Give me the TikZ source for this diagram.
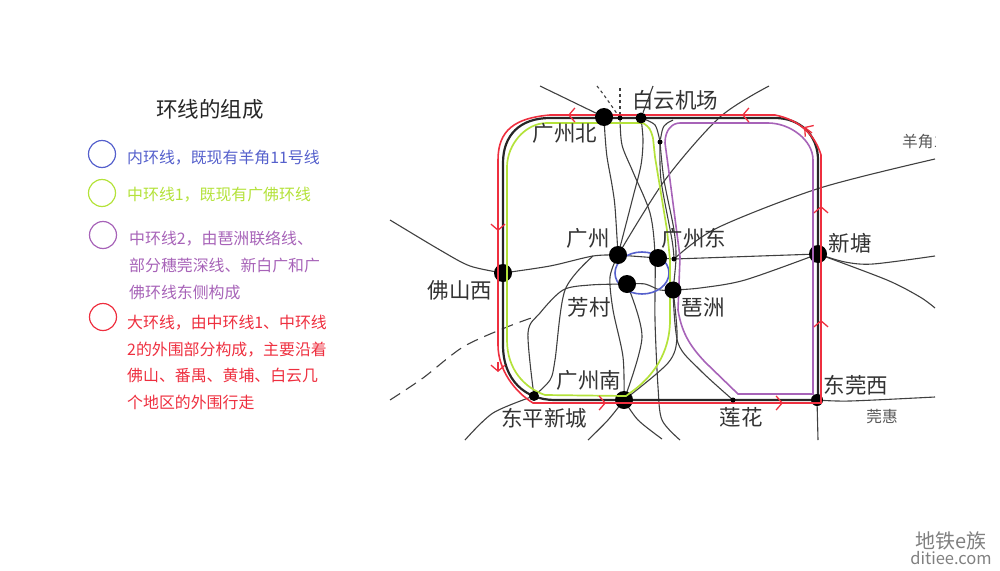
\documentclass[tikz,border=0pt]{standalone}
\usepackage{fontspec}
\setmainfont{Noto Sans CJK SC}
\usetikzlibrary{arrows.meta}
\definecolor{ringblue}{HTML}{5560CC}
\definecolor{ringgreen}{HTML}{B4E23A}
\definecolor{ringpurple}{HTML}{A763B8}
\definecolor{ringred}{HTML}{EE2F3F}
\definecolor{linegrey}{HTML}{404040}
\pgfdeclarelayer{lines}
\pgfdeclarelayer{rings}
\pgfdeclarelayer{top}
\pgfsetlayers{lines,main,rings,top}
\tikzset{
   branch/.style={draw=linegrey, line width=1.1pt},
   bigstop/.style={circle, fill=black, inner sep=0pt, minimum size=18pt},
   midstop/.style={circle, fill=black, inner sep=0pt, minimum size=10pt},
   smallstop/.style={circle, fill=black, inner sep=0pt, minimum size=5pt},
   maplabel/.style={inner sep=0pt, text=black!80, font=\fontsize{21.5}{26}\selectfont},
   minilabel/.style={inner sep=0pt, text=black!65, font=\fontsize{15.7}{19}\selectfont},
   legend/.style={inner sep=0pt, anchor=north west, align=left, font=\fontsize{15.9}{26.7}\selectfont},
   legendring/.style={circle, draw, line width=1.2pt, inner sep=0pt, minimum size=27pt},
   redtick/.style={draw=ringred, line width=1.3pt, -{Straight Barb[length=6pt,width=14pt]}},
}
\begin{document}
\begin{tikzpicture}[x=1pt,y=-1pt]
   \useasboundingbox (0,0) rectangle (1000,570);
   % left column
   \node (title) [inner sep=0pt, text=black!85, font=\fontsize{21.5}{26}\selectfont] at (210,109) {环线的组成};
   \node (c1) [legendring, draw=ringblue] at (102,154) {};
   \node (c2) [legendring, draw=ringgreen] at (102,193) {};
   \node (c3) [legendring, draw=ringpurple] at (103,235) {};
   \node (c4) [legendring, draw=ringred] at (103,317) {};
   \node (t1) [legend, text=ringblue] at (127,150) {内环线，既现有羊角11号线};
   \node (t2) [legend, text=ringgreen] at (127,187) {中环线1，既现有广佛环线};
   \node (t3) [legend, text=ringpurple] at (129,231) {中环线2，由琶洲联络线、\\部分穗莞深线、新白广和广\\佛环线东侧构成};
   \node (t4) [legend, text=ringred] at (127,315) {大环线，由中环线1、中环线\\2的外围部分构成，主要沿着\\佛山、番禺、黄埔、白云几\\个地区的外围行走};
   % stops under the coloured rings
   \node (fsx) [bigstop] at (503,273) {};
   \node (xt) [bigstop] at (818,254) {};
   \node (gzn) [bigstop] at (624,400) {};
   \node (dgx) [midstop, minimum size=12pt] at (817,400) {};
   % stops over them
   \begin{pgfonlayer}{top}
      \node (gzb) [bigstop] at (604,117) {};
      \node (byjc) [midstop, minimum size=11pt] at (641,118) {};
      \node (gz) [bigstop] at (618,255) {};
      \node (gzd) [bigstop] at (658,258) {};
      \node (fc) [bigstop] at (627,284) {};
      \node (pz) [bigstop, minimum size=17pt] at (673,290) {};
      \node (dpxc) [midstop] at (534,396) {};
      \node (lh) [smallstop] at (733,400) {};
      \node (top1) [smallstop] at (620,118) {};
      \node (top2) [smallstop] at (660,142) {};
      \node (mid1) [smallstop] at (674,259) {};
   \end{pgfonlayer}
   \coordinate (endA) at (540,86);
   \coordinate (endB) at (597,86);
   \coordinate (endC) at (620,88);
   \coordinate (endD) at (680,440);
   \coordinate (endE) at (653,86);
   \coordinate (endF) at (769,86);
   \coordinate (endG) at (390,220);
   \coordinate (endH) at (390,400);
   \coordinate (endI) at (465,440);
   \coordinate (endJ) at (588,440);
   \coordinate (endK) at (662,439);
   \coordinate (endL) at (935,159);
   \coordinate (endM) at (935,256);
   \coordinate (endN) at (935,308);
   \coordinate (endO) at (935,397);
   \coordinate (endP) at (818,440);
   \begin{pgfonlayer}{lines}
      \draw[branch] (endA) -- (gzb);
      \draw[branch, dashed] (endB) .. controls (604,95) .. (top1);
      \draw[branch, dashed] (endC) -- (top1);
      \draw[branch] (endE) -- (byjc);
      \draw[branch] plot[smooth] coordinates {(gzb) (605,135) (607,157) (612,185) (615,207) (618,255)};
      \draw[branch] plot[smooth] coordinates {(top1) (622,145) (633,172) (650,213) (655,255) (655,320) (658,387) (662,420) (endD)};
      \draw[branch] plot[smooth] coordinates {(byjc) (643,140) (641,165) (633,197) (618,255)};
      \draw[branch] plot[smooth] coordinates {(gz) (665,180) (720,117) (endF)};
      \draw[branch] plot[smooth] coordinates {(endG) (440,250) (470,266) (fsx)};
      \draw[branch] plot[smooth] coordinates {(fsx) (550,266) (593,256) (gz)};
      \draw[branch] plot[smooth] coordinates {(593,256) (565,290) (555,360) (550,380) (dpxc)};
      \draw[branch] plot[smooth] coordinates {(fc) (590,285) (563,290) (540,313) (528,333) (dpxc)};
      \draw[branch, dash pattern=on 12pt off 7pt] plot[smooth] coordinates {(endH) (423,378) (463,347) (507,327) (537,316)};
      \draw[branch] plot[smooth] coordinates {(dpxc) (493,413) (endI)};
      \draw[branch] plot[smooth] coordinates {(gzn) (608,420) (endJ)};
      \draw[branch] plot[smooth] coordinates {(gzn) (638,420) (endK)};
      \draw[branch] plot[smooth] coordinates {(gz) (610,277) (613,310) (623,357) (gzn)};
      \draw[branch] plot[smooth] coordinates {(fc) (642,337) (gzn)};
      \draw[branch] plot[smooth] coordinates {(fc) (645,284) (660,290) (pz)};
      \draw[branch] (gz) -- (gzd) -- (mid1);
      \draw[branch] plot[smooth] coordinates {(mid1) (760,256) (xt)};
      \draw[branch] plot[smooth] coordinates {(pz) (700,288) (745,280) (xt)};
      \draw[branch] plot[smooth] coordinates {(mid1) (717,228) (820,188) (endL)};
      \draw[branch] plot[smooth] coordinates {(xt) (845,262) (873,264) (endM)};
      \draw[branch] plot[smooth] coordinates {(xt) (887,280) (920,297) (endN)};
      \draw[branch] plot[smooth] coordinates {(dgx) (850,401) (endO)};
      \draw[branch] (dgx) -- (endP);
      \draw[branch] plot[smooth] coordinates {(byjc) (655,125) (top2)};
      \draw[branch] (top2) .. controls (663,125) .. (673,120);
      \draw[branch] plot[smooth] coordinates {(top2) (661,180) (672,240) (mid1)};
      \draw[branch] plot[smooth] coordinates {(top2) (664,180) (674,230) (676,258) (pz)};
      \draw[branch] plot[smooth] coordinates {(pz) (677,337) (668,363) (gzn)};
      \draw[branch] plot[smooth] coordinates {(pz) (678,343) (700,370) (lh)};
      % main black ring
      \draw[line width=2.2pt, draw=black!85] (550,118) -- (775,118) .. controls (800,118) and (818,135) .. (818,160) -- (818,400) -- (555,400) .. controls (525,400) and (503,380) .. (503,345) -- (503,163) .. controls (503,135) and (520,118) .. (550,118) -- cycle;
   \end{pgfonlayer}
   \begin{pgfonlayer}{rings}
      \draw[ringblue, line width=1.6pt] (642,273) ellipse [x radius=27, y radius=21];
      \draw[ringgreen, line width=1.7pt] (547,123) -- (643,123) .. controls (650,128) .. (653,138) -- (655,157) -- (667,230) -- (670,260) -- (670,320) .. controls (670,345) and (660,372) .. (630,393) -- (626,396) -- (545,395) .. controls (525,388) and (507,370) .. (507,340) -- (507,167) .. controls (507,145) and (525,123) .. (547,123);
      \draw[ringpurple, line width=1.6pt] (680,123) -- (768,123) .. controls (790,123) and (813,140) .. (813,160) -- (813,394) -- (738,394) -- (705,362) .. controls (692,348) and (682,335) .. (678,310) -- (680,257) -- (670,180) -- (665,143) .. controls (665,130) and (672,123) .. (680,123);
      \draw[ringred, line width=1.6pt] (550,115) -- (775,115) .. controls (800,120) and (815,135) .. (821,155) -- (821,403) -- (533,403) .. controls (515,392) and (498,370) .. (498,345) -- (498,160) .. controls (498,130) and (515,118) .. (550,115);
      \draw[redtick] (498,221) -- (498,231);
      \draw[redtick] (498,362) -- (498,372);
      \draw[redtick] (578,115) -- (568,115);
      \draw[redtick] (752,115) -- (742,115);
      \draw[redtick] (812,133) -- (804,127);
      \draw[redtick] (596,403) -- (606,403);
      \draw[redtick] (773,403) -- (783,403);
      \draw[redtick] (821,216) -- (821,206);
      \draw[redtick] (821,330) -- (821,320);
   \end{pgfonlayer}
   \begin{pgfonlayer}{top}
      \node (lgzb) [maplabel] at (565,133) {广州北};
      \node (lbyjc) [maplabel] at (675,100) {白云机场};
      \node (lgz) [maplabel] at (588,238) {广州};
      \node (lgzd) [maplabel] at (694,238) {广州东};
      \node (lxt) [maplabel] at (850,243) {新塘};
      \node (lfsx) [maplabel] at (460,290) {佛山西};
      \node (lfc) [maplabel] at (589,307) {芳村};
      \node (lpz) [maplabel] at (703,307) {琶洲};
      \node (lgzn) [maplabel] at (589,380) {广州南};
      \node (ldpxc) [maplabel] at (544,418) {东平新城};
      \node (llh) [maplabel] at (741,417) {莲花};
      \node (ldgx) [maplabel] at (856,385) {东莞西};
      \node (lgh) [minilabel] at (882,417) {莞惠};
      \begin{scope}
         \clip (890,130) rectangle (935,155);
         \node (lyj) [minilabel, anchor=west] at (902,142) {羊角11号线};
      \end{scope}
      \node (mark1) [inner sep=0pt, text=black!50, font=\fontsize{20}{24}\selectfont] at (951,541) {地铁e族};
      \node (mark2) [inner sep=0pt, text=black!50, font=\fontsize{16.5}{18}\selectfont] at (951,558) {ditiee.com};
   \end{pgfonlayer}
\end{tikzpicture}
\end{document}
